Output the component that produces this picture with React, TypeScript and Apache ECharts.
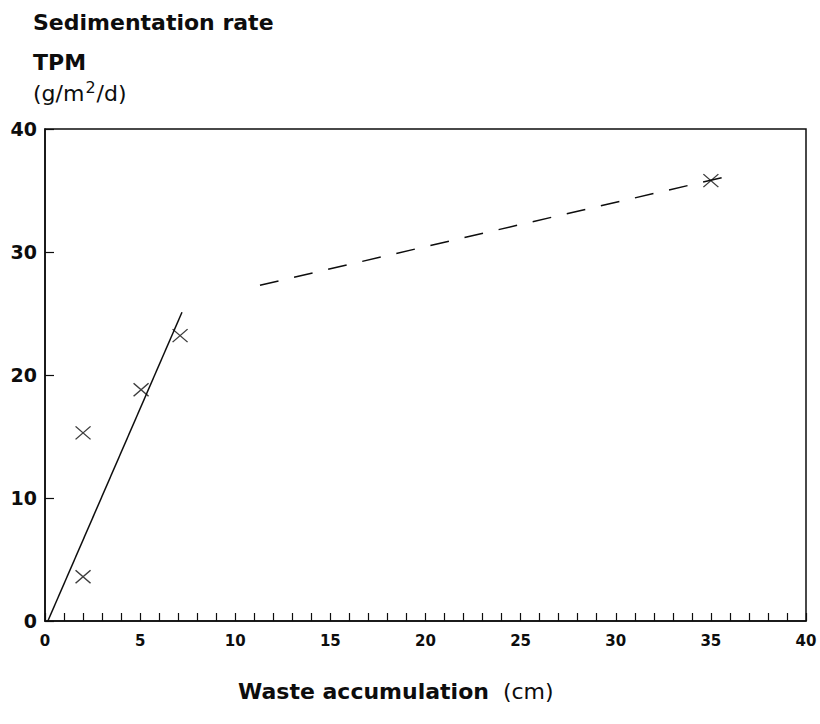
import React, { useEffect, useRef } from "react";
import * as echarts from "echarts";

// Data
const observedPoints: [number, number][] = [
  [2.0, 3.6],
  [2.0, 15.3],
  [5.05, 18.8],
  [7.1, 23.2],
  [35.0, 35.8],
];
const solidFitLine: [number, number][] = [
  [0.15, 0],
  [7.2, 25.1],
];
const dashedFitLine: [number, number][] = [
  [11.3, 27.3],
  [36.0, 36.2],
];
const xRange = [0, 40];
const yRange = [0, 40];
const titleMain = "Sedimentation rate";
const titleSub = "TPM";
const unitBefore = "(g/m";
const unitSup = "2";
const unitAfter = "/d)";
const xAxisTitle = "Waste accumulation";
const xAxisUnit = "(cm)";

const FONT = "DejaVu Sans";
const INK = "#0d0d0d";

export default function App() {
  const ref = useRef<HTMLDivElement>(null);

  useEffect(() => {
    if (!ref.current) return;
    const chart = echarts.init(ref.current, null, { renderer: "svg" });
    chart.setOption({
      animation: false,
      backgroundColor: "#fff",
      grid: {
        left: 45,
        right: 14,
        top: 129,
        bottom: 103,
        show: true,
        borderColor: INK,
        borderWidth: 1.5,
        backgroundColor: "transparent",
      },
      xAxis: {
        type: "value",
        min: xRange[0],
        max: xRange[1],
        interval: 5,
        axisLine: { show: true, lineStyle: { color: INK, width: 1.5 } },
        axisTick: { show: true, inside: true, length: 8, lineStyle: { color: INK, width: 1.2 } },
        minorTick: { show: true, splitNumber: 5, length: 8, lineStyle: { color: INK, width: 1.2 } },
        splitLine: { show: false },
        axisLabel: {
          margin: 12,
          color: INK,
          fontFamily: FONT,
          fontWeight: "bold",
          fontSize: 15,
        },
      },
      yAxis: {
        type: "value",
        min: yRange[0],
        max: yRange[1],
        interval: 10,
        axisLine: { show: true, lineStyle: { color: INK, width: 1.5 } },
        axisTick: { show: true, inside: true, length: 9, lineStyle: { color: INK, width: 1.2 } },
        splitLine: { show: false },
        axisLabel: {
          margin: 8,
          color: INK,
          fontFamily: FONT,
          fontWeight: "bold",
          fontSize: 19,
        },
      },
      series: [
        {
          type: "line",
          data: solidFitLine,
          showSymbol: false,
          silent: true,
          lineStyle: { color: INK, width: 1.5 },
        },
        {
          type: "line",
          data: dashedFitLine,
          showSymbol: false,
          silent: true,
          lineStyle: { color: INK, width: 1.5, type: [19, 16] },
        },
        {
          type: "scatter",
          data: observedPoints,
          silent: true,
          symbol: "path://M0 0 L10 10 M10 0 L0 10",
          symbolSize: [15, 13],
          itemStyle: { color: "rgba(0,0,0,0)", borderColor: INK, borderWidth: 1.3 },
        },
      ],
      graphic: [
        {
          type: "text",
          left: 33,
          top: 11,
          style: {
            text: titleMain,
            font: `bold 22px "${FONT}"`,
            fill: INK,
          },
        },
        {
          type: "text",
          left: 33,
          top: 51,
          style: {
            text: titleSub,
            font: `bold 22px "${FONT}"`,
            fill: INK,
          },
        },
        {
          type: "text",
          left: 33,
          top: 79,
          style: {
            text: `{n|${unitBefore}}{s|${unitSup}}{n|${unitAfter}}`,
            fill: INK,
            rich: {
              n: { fontFamily: FONT, fontSize: 22, fill: INK, fontWeight: "normal" },
              s: { fontFamily: FONT, fontSize: 16, fill: INK, fontWeight: "normal", padding: [0, 1, 12, 1] },
            },
          },
        },
        {
          type: "text",
          left: 238,
          top: 680,
          style: {
            text: `{b|${xAxisTitle}}{n|  ${xAxisUnit}}`,
            fill: INK,
            rich: {
              b: { fontFamily: FONT, fontSize: 22, fontWeight: "bold", fill: INK },
              n: { fontFamily: FONT, fontSize: 22, fontWeight: "normal", fill: INK },
            },
          },
        },
      ],
    });
    return () => chart.dispose();
  }, []);

  return (
    <div
      ref={ref}
      style={{ position: "absolute", left: 0, top: 0, width: 820, height: 724 }}
    />
  );
}
